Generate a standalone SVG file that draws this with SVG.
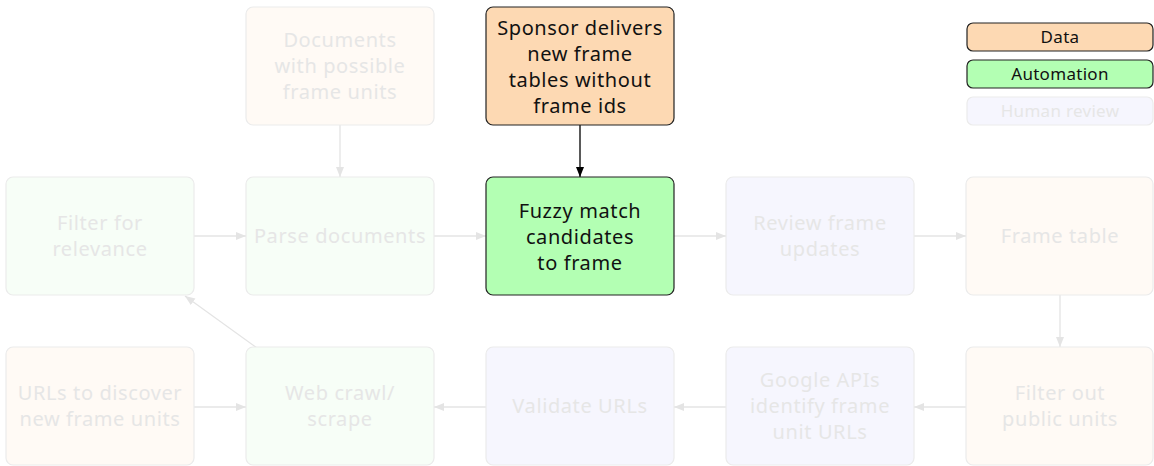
<svg xmlns="http://www.w3.org/2000/svg" width="1154" height="466" viewBox="0 0 1154 466">
<style>
text{font-family:"Noto Sans","DejaVu Sans",sans-serif;font-size:20px;text-anchor:middle;letter-spacing:0.6px}
.box{stroke-width:1.2}
.data{fill:#fdd9b3;stroke:#222}
.auto{fill:#b3ffb3;stroke:#222}
.fdata{fill:#fffaf5;stroke:#ebebeb}
.fauto{fill:#f7fef7;stroke:#ebebeb}
.fhum{fill:#f6f6fe;stroke:#ebebeb}
.t{fill:#111}
.ft{fill:#e6e6e6}
.lg{font-size:17px;letter-spacing:0.3px}
.fl{stroke:#e4e4e4;stroke-width:1.3;fill:none}
.bl{stroke:#000;stroke-width:1.3;fill:none}
</style>
<defs>
<marker id="ag" viewBox="0 0 10 10" refX="10" refY="5" markerWidth="10" markerHeight="10" markerUnits="userSpaceOnUse" orient="auto"><path d="M0,1 L10,5 L0,9 Z" fill="#e4e4e4"/></marker>
<marker id="ab" viewBox="0 0 10 10" refX="10" refY="5" markerWidth="10" markerHeight="10" markerUnits="userSpaceOnUse" orient="auto"><path d="M0,1 L10,5 L0,9 Z" fill="#000"/></marker>
</defs>
<g id="connectors">
<path class="fl" d="M340,125 V177" marker-end="url(#ag)"/>
<path class="fl" d="M194,236 H246" marker-end="url(#ag)"/>
<path class="fl" d="M434,236 H486" marker-end="url(#ag)"/>
<path class="fl" d="M674,236 H726" marker-end="url(#ag)"/>
<path class="fl" d="M914,236 H966" marker-end="url(#ag)"/>
<path class="fl" d="M1060,295 V347" marker-end="url(#ag)"/>
<path class="fl" d="M966,407 H914" marker-end="url(#ag)"/>
<path class="fl" d="M726,407 H674" marker-end="url(#ag)"/>
<path class="fl" d="M486,407 H434" marker-end="url(#ag)"/>
<path class="fl" d="M194,407 H246" marker-end="url(#ag)"/>
<path class="fl" d="M257,348 L185,296" marker-end="url(#ag)"/>
<path class="bl" d="M580,125 V177" marker-end="url(#ab)"/>
</g>
<g id="n-documents"><rect class="box fdata" x="246" y="7" width="188" height="118" rx="7"/><text class="ft" x="340" y="47">Documents</text><text class="ft" x="340" y="73">with possible</text><text class="ft" x="340" y="99">frame units</text></g>
<g id="n-sponsor"><rect class="box data" x="486" y="7" width="188" height="118" rx="7"/><text class="t" x="580" y="35">Sponsor delivers</text><text class="t" x="580" y="61">new frame</text><text class="t" x="580" y="87">tables without</text><text class="t" x="580" y="113">frame ids</text></g>
<g id="n-filter-relevance"><rect class="box fauto" x="6" y="177" width="188" height="118" rx="7"/><text class="ft" x="100" y="230">Filter for</text><text class="ft" x="100" y="256">relevance</text></g>
<g id="n-parse"><rect class="box fauto" x="246" y="177" width="188" height="118" rx="7"/><text class="ft" x="340" y="243">Parse documents</text></g>
<g id="n-fuzzy"><rect class="box auto" x="486" y="177" width="188" height="118" rx="7"/><text class="t" x="580" y="218">Fuzzy match</text><text class="t" x="580" y="244">candidates</text><text class="t" x="580" y="270">to frame</text></g>
<g id="n-review"><rect class="box fhum" x="726" y="177" width="188" height="118" rx="7"/><text class="ft" x="820" y="230">Review frame</text><text class="ft" x="820" y="256">updates</text></g>
<g id="n-frame-table"><rect class="box fdata" x="966" y="177" width="187" height="118" rx="7"/><text class="ft" x="1060" y="243">Frame table</text></g>
<g id="n-urls"><rect class="box fdata" x="6" y="347" width="188" height="118" rx="7"/><text class="ft" x="100" y="400">URLs to discover</text><text class="ft" x="100" y="426">new frame units</text></g>
<g id="n-crawl"><rect class="box fauto" x="246" y="347" width="188" height="118" rx="7"/><text class="ft" x="340" y="400">Web crawl/</text><text class="ft" x="340" y="426">scrape</text></g>
<g id="n-validate"><rect class="box fhum" x="486" y="347" width="188" height="118" rx="7"/><text class="ft" x="580" y="413">Validate URLs</text></g>
<g id="n-google"><rect class="box fhum" x="726" y="347" width="188" height="118" rx="7"/><text class="ft" x="820" y="387">Google APIs</text><text class="ft" x="820" y="413">identify frame</text><text class="ft" x="820" y="439">unit URLs</text></g>
<g id="n-filter-public"><rect class="box fdata" x="966" y="347" width="187" height="118" rx="7"/><text class="ft" x="1060" y="400">Filter out</text><text class="ft" x="1060" y="426">public units</text></g>
<g id="legend-data"><rect class="box data" x="967" y="23" width="186" height="28" rx="6"/><text class="t lg" x="1060" y="43">Data</text></g>
<g id="legend-automation"><rect class="box auto" x="967" y="60" width="186" height="28" rx="6"/><text class="t lg" x="1060" y="80">Automation</text></g>
<g id="legend-human"><rect class="box fhum" x="967" y="97" width="186" height="28" rx="6"/><text class="ft lg" x="1060" y="117">Human review</text></g>
</svg>
